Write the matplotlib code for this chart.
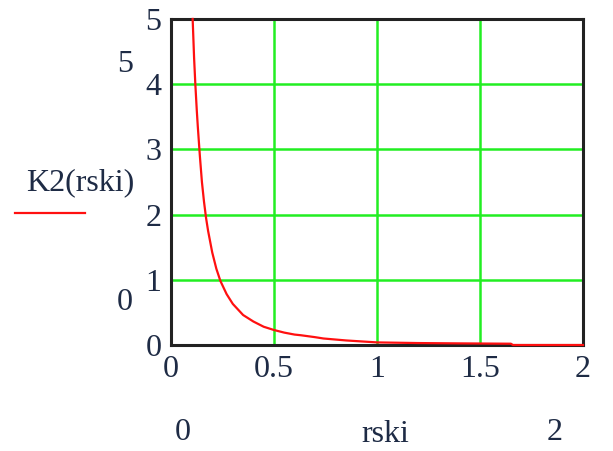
import matplotlib
matplotlib.use('Agg')
import matplotlib.pyplot as plt
from matplotlib import font_manager

# K2(rski) sampled values
rski = [0.105, 0.112, 0.118, 0.125, 0.13, 0.14, 0.15, 0.16, 0.17, 0.18, 0.20,
        0.22, 0.24, 0.27, 0.30, 0.35, 0.40, 0.45, 0.50, 0.55, 0.60, 0.63,
        0.70, 0.74, 0.85, 0.95, 1.00, 1.20, 1.40, 1.65, 1.66, 2.00]
k2 = [5.0, 4.4, 4.0, 3.6, 3.35, 2.9, 2.5, 2.2, 1.95, 1.75, 1.42,
      1.17, 0.98, 0.78, 0.63, 0.46, 0.36, 0.28, 0.23, 0.19, 0.16, 0.15,
      0.12, 0.10, 0.07, 0.05, 0.04, 0.03, 0.025, 0.02, 0.0, 0.0]

x_ticks = [0, 0.5, 1, 1.5, 2]
x_tick_labels = ['0', '0.5', '1', '1.5', '2']
y_ticks = [0, 1, 2, 3, 4, 5]
y_tick_labels = ['0', '1', '2', '3', '4', '5']

names = {f.name for f in font_manager.fontManager.ttflist}
serif = 'Liberation Serif' if 'Liberation Serif' in names else 'DejaVu Serif'
plt.rcParams['font.family'] = [serif, 'DejaVu Serif']
txt_col = '#1e2b45'
fs = 23

fig = plt.figure(figsize=(6.13, 4.51), dpi=100)
ax = fig.add_axes([0.279, 0.235, 0.672, 0.723])

for v in x_ticks[1:-1]:
    ax.axvline(v, color='#22ee22', lw=1.8, zorder=1)
for v in y_ticks[1:-1]:
    ax.axhline(v, color='#22ee22', lw=1.8, zorder=1)

ax.plot(rski, k2, color='#ff1010', lw=1.6, zorder=3, clip_on=False)

ax.set_xlim(0, 2)
ax.set_ylim(0, 5)
ax.set_xticks(x_ticks)
ax.set_xticklabels(x_tick_labels)
ax.set_yticks(y_ticks)
ax.set_yticklabels(y_tick_labels)
ax.tick_params(length=0, labelsize=fs, colors=txt_col, pad=7)
for s in ax.spines.values():
    s.set_linewidth(2.2)
    s.set_color('#222222')

# range and axis labels around the plot
fig.text(125 / 613, 1 - 65 / 451, '5', fontsize=fs, color=txt_col, ha='center', va='center')
fig.text(125 / 613, 1 - 302 / 451, '0', fontsize=fs, color=txt_col, ha='center', va='center')
fig.text(80 / 613, 1 - 183 / 451, 'K2(rski)', fontsize=fs, color=txt_col, ha='center', va='center')
fig.add_artist(plt.Line2D([15 / 613, 85 / 613], [1 - 213 / 451, 1 - 213 / 451],
                          color='#ff1010', lw=1.6))
fig.text(183 / 613, 1 - 432 / 451, '0', fontsize=fs, color=txt_col, ha='center', va='center')
fig.text(385 / 613, 1 - 434 / 451, 'rski', fontsize=fs, color=txt_col, ha='center', va='center')
fig.text(555 / 613, 1 - 432 / 451, '2', fontsize=fs, color=txt_col, ha='center', va='center')

fig.savefig('out.png', dpi=100)
